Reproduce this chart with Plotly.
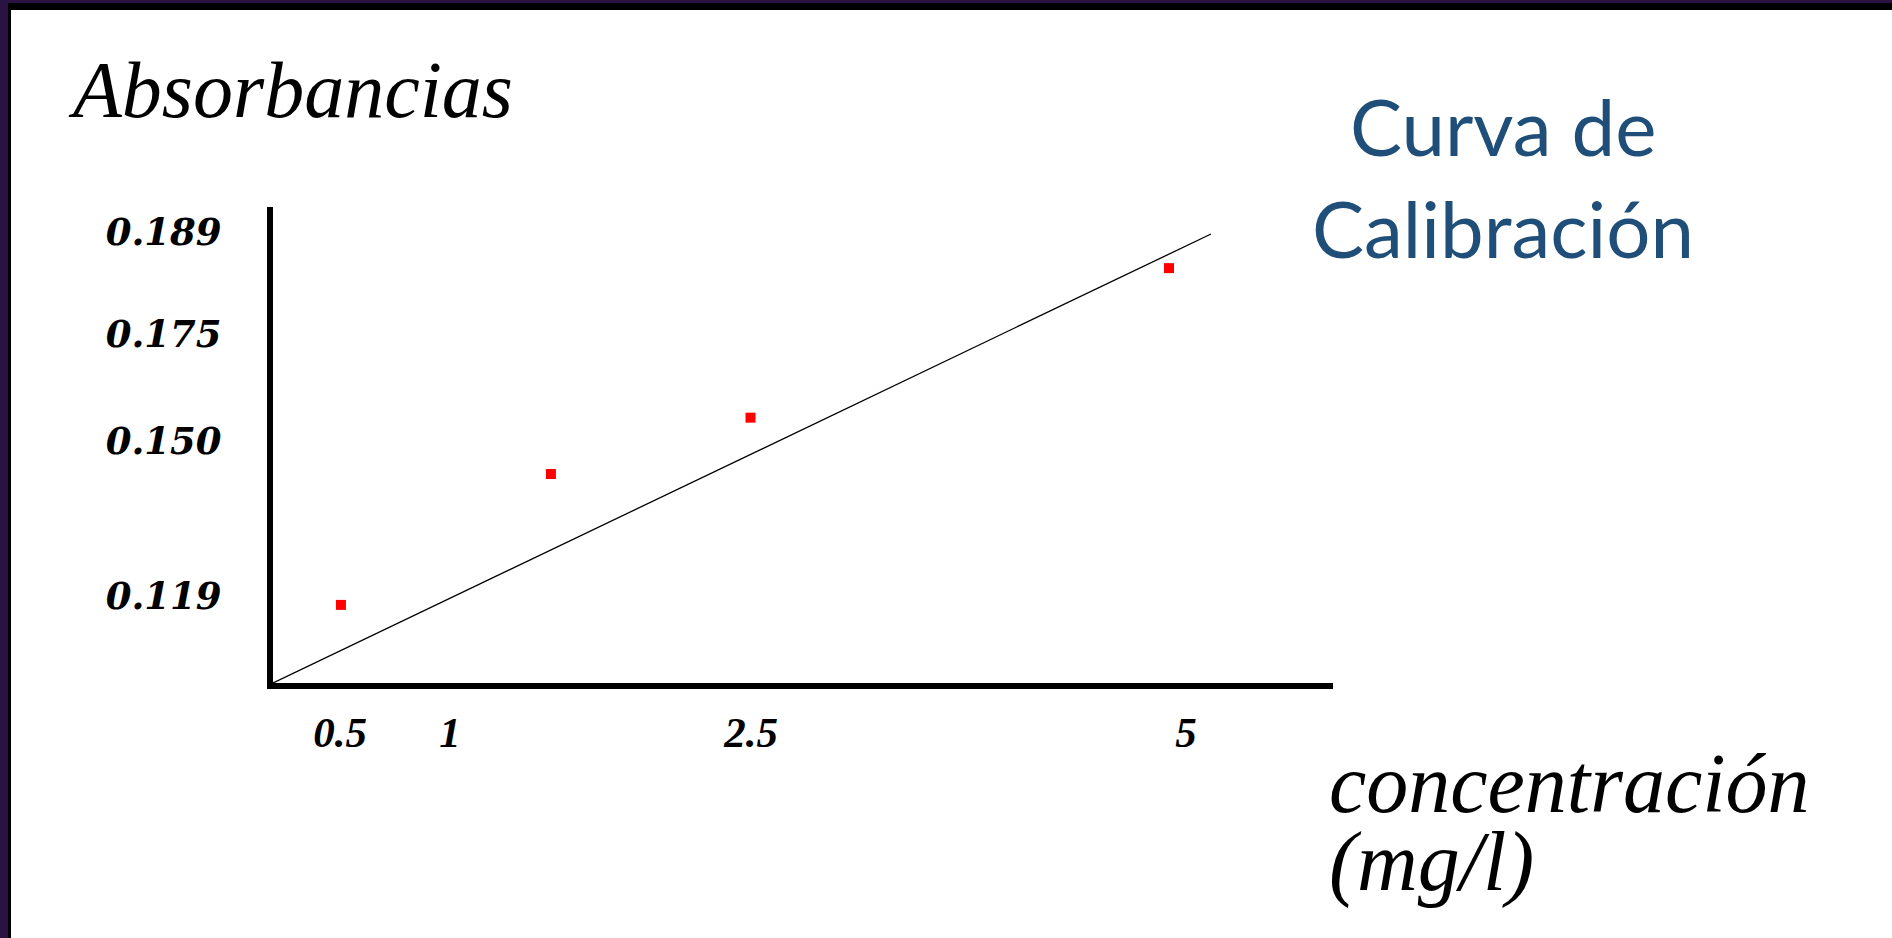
import plotly.graph_objects as go

# ---- data (axis units) ----
conc_points = [0.372, 1.522, 2.615, 4.907]          # x positions of the red points
abs_points = [0.0327, 0.0875, 0.1111, 0.1737]        # y positions of the red points

fit_x = [0.0, 5.137]                                 # calibration line ends
fit_y = [0.0, 0.1880]

x_tick_pos = [0.367, 0.969, 2.618, 5.0]
x_tick_labels = ["0.5", "1", "2.5", "5"]

y_tick_pos = [0.0362, 0.1011, 0.1463, 0.189]
y_tick_labels = ["0.119", "0.150", "0.175", "0.189"]

x_range = [0, 5.805]
y_range = [0, 0.1993]

W, H = 1892, 938

fig = go.Figure()
fig.add_trace(go.Scatter(
    x=fit_x, y=fit_y, mode="lines",
    line=dict(color="black", width=1.3),
    hoverinfo="skip", showlegend=False,
))
fig.add_trace(go.Scatter(
    x=conc_points, y=abs_points, mode="markers",
    marker=dict(symbol="square", size=10, color="#FF0000", line=dict(width=0)),
    showlegend=False,
))

x_tick_font = dict(family="Liberation Serif, Times New Roman, serif", size=43, color="black",
                   style="italic", weight="bold")
y_tick_font = dict(family="DejaVu Serif, Liberation Serif, serif", size=37, color="black",
                   style="italic", weight="bold")

fig.update_xaxes(
    range=x_range, domain=[273 / W, 1333 / W],
    showgrid=False, zeroline=False,
    showline=True, linecolor="black", linewidth=6,
    tickmode="array", tickvals=x_tick_pos, ticktext=x_tick_labels,
    ticks="", ticklabelstandoff=6, tickfont=x_tick_font,
)
fig.update_yaxes(
    range=y_range, domain=[1 - 683 / H, 1 - 207 / H],
    showgrid=False, zeroline=False,
    showline=True, linecolor="black", linewidth=6,
    tickmode="array", tickvals=y_tick_pos, ticktext=y_tick_labels,
    ticks="", ticklabelstandoff=38, tickfont=y_tick_font,
)

serif_i = dict(family="Liberation Serif, Times New Roman, serif", color="black", style="italic")
title_font = dict(family="Lato, Open Sans, sans-serif", size=78, color="#1F4E79")

annotations = [
    dict(text="Absorbancias", x=66 / W, y=1 - 90 / H, xanchor="left", yanchor="middle",
         font=dict(size=80, **serif_i)),
    dict(text="Curva de", x=1503 / W, y=1 - 126 / H, xanchor="center", yanchor="middle",
         font=title_font),
    dict(text="Calibración", x=1503 / W, y=1 - 228 / H, xanchor="center", yanchor="middle",
         font=title_font),
    dict(text="concentración", x=1327 / W, y=1 - 783 / H, xanchor="left", yanchor="middle",
         font=dict(size=84, **serif_i)),
    dict(text="(mg/l)", x=1327 / W, y=1 - 862 / H, xanchor="left", yanchor="middle",
         font=dict(size=84, **serif_i)),
]
for a in annotations:
    a.update(xref="paper", yref="paper", showarrow=False)

purple = "#2A1242"
shapes = [
    dict(type="rect", xref="paper", yref="paper", x0=0, x1=1, y0=1 - 3 / H, y1=1,
         fillcolor=purple, line=dict(width=0)),
    dict(type="rect", xref="paper", yref="paper", x0=8 / W, x1=1, y0=1 - 10 / H, y1=1 - 3 / H,
         fillcolor="black", line=dict(width=0)),
    dict(type="rect", xref="paper", yref="paper", x0=0, x1=8 / W, y0=0, y1=1,
         fillcolor=purple, line=dict(width=0)),
    dict(type="rect", xref="paper", yref="paper", x0=8 / W, x1=11 / W, y0=0, y1=1 - 3 / H,
         fillcolor="black", line=dict(width=0)),
]

fig.update_layout(
    width=W, height=H, autosize=False,
    margin=dict(l=0, r=0, t=0, b=0, pad=0),
    paper_bgcolor="white", plot_bgcolor="white",
    annotations=annotations, shapes=shapes,
    showlegend=False,
)

fig.write_html(
    "out.html",
    config={"displayModeBar": False},
    post_script="document.body.style.margin='0';document.body.style.overflow='hidden';",
)
